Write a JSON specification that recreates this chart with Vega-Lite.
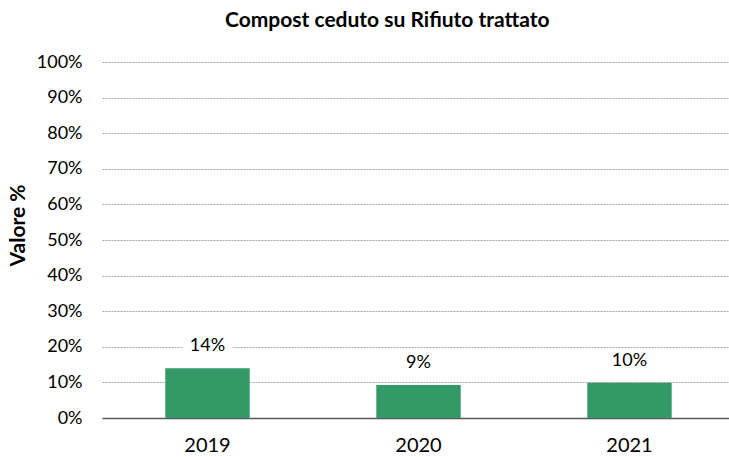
{
  "$schema": "https://vega.github.io/schema/vega-lite/v6.json",
  "width": 633,
  "height": 356,
  "autosize": "none",
  "padding": {"left": 102, "top": 62, "right": 0, "bottom": 39},
  "background": "white",
  "title": {
    "text": "Compost ceduto su Rifiuto trattato",
    "anchor": "start",
    "frame": "group",
    "dx": 123,
    "offset": 5,
    "baseline": "alphabetic",
    "font": "Lato",
    "fontSize": 21,
    "fontWeight": "bold",
    "color": "#000000"
  },
  "config": {"view": {"stroke": null}},
  "data": {
    "values": [
      {"year": "2019", "value": 0.140},
      {"year": "2020", "value": 0.093},
      {"year": "2021", "value": 0.099}
    ]
  },
  "encoding": {
    "x": {
      "field": "year",
      "type": "nominal",
      "scale": {"paddingInner": 0.6, "paddingOuter": 0.3},
      "axis": {
        "title": null,
        "labelAngle": 0,
        "labelFont": "Lato",
        "labelFontSize": 20,
        "labelColor": "#000000",
        "labelPadding": 17,
        "ticks": false,
        "domainColor": "#595959",
        "domainWidth": 1.5
      }
    },
    "y": {
      "field": "value",
      "type": "quantitative",
      "scale": {"domain": [0, 1]},
      "axis": {
        "title": "Valore %",
        "titleFont": "Lato",
        "titleFontSize": 21,
        "titleFontWeight": "bold",
        "titleColor": "#000000",
        "titlePadding": 8,
        "titleY": 163,
        "format": ".0%",
        "values": [0, 0.1, 0.2, 0.3, 0.4, 0.5, 0.6, 0.7, 0.8, 0.9, 1],
        "labelFont": "Lato",
        "labelFontSize": 18,
        "labelColor": "#000000",
        "labelPadding": 20,
        "ticks": false,
        "domain": false,
        "grid": true,
        "gridColor": "#a6a6a6",
        "gridDash": [2, 1],
        "gridWidth": 1
      }
    }
  },
  "layer": [
    {
      "mark": {"type": "bar", "color": "#339966"}
    },
    {
      "mark": {
        "type": "point",
        "filled": true,
        "fill": "white",
        "opacity": 1,
        "strokeWidth": 0,
        "size": 2500,
        "yOffset": -22
      },
      "encoding": {
        "shape": {
          "condition": {"test": "datum.value < 0.095", "value": "M-0.8,-0.44H0.8V0.44H-0.8Z"},
          "value": "M-1,-0.44H1V0.44H-1Z"
        }
      }
    },
    {
      "mark": {
        "type": "text",
        "font": "Lato",
        "fontSize": 18,
        "color": "#000000",
        "baseline": "middle",
        "yOffset": -22
      },
      "encoding": {
        "text": {"field": "value", "type": "quantitative", "format": ".0%"}
      }
    }
  ]
}
